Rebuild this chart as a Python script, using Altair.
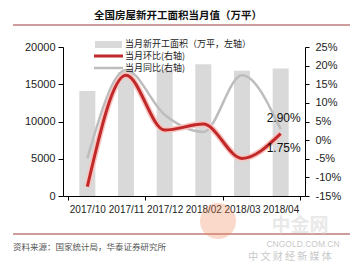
import altair as alt
import pandas as pd

categories = ["2017/10", "2017/11", "2017/12", "2018/02", "2018/03", "2018/04"]
area = [14100, 16650, 16900, 17700, 16800, 17100]      # 当月新开工面积（万平）
mom = [-12.5, 17.4, 2.7, 4.3, -4.9, 1.75]              # 当月环比 %
yoy = [-4.9, 18.8, 6.8, 2.2, 17.4, 2.90]               # 当月同比 %

title_text = "全国房屋新开工面积当月值（万平）"
legend_labels = ["当月新开工面积（万平，左轴）", "当月环比(右轴)", "当月同比(右轴)"]
source_text = "资料来源：国家统计局，华泰证券研究所"

df = pd.DataFrame({"idx": list(range(len(categories))), "cat": categories,
                   "area": area, "mom": mom, "yoy": yoy})
last = df.iloc[[-1]]
one = pd.DataFrame({"a": [0]})

W, H = 242, 149
FONT = "Liberation Sans"
CJK = "Noto Sans CJK SC"

n = len(categories)
xscale = alt.Scale(domain=[-0.5, n - 0.5], nice=False, zero=False)
label_expr = ("datum.value % 1 == 0 ? [" + ",".join("'%s'" % c for c in categories)
              + "][datum.value] : ''")
x_values = sorted(set(list(range(n)) + [-0.5, 1.5, 3.5, 5.5]))

x_axis = alt.Axis(values=x_values, labelExpr=label_expr, grid=False, title=None,
                  domainColor="#000", tickColor="#000", tickSize=4, labelPadding=4,
                  tickOpacity={"condition": {"test": "datum.value % 1 != 0", "value": 1}, "value": 0},
                  labelFont=FONT, labelFontSize=10, labelColor="#222", labelFlush=False,
                  labelOverlap=False)

yl = alt.Scale(domain=[0, 20000], nice=False)
yr = alt.Scale(domain=[-15, 25], nice=False)

left_axis = alt.Axis(values=[0, 5000, 10000, 15000, 20000], grid=False, title=None,
                     domainColor="#000", tickColor="#000", tickSize=5, labelPadding=3,
                     labelFont=FONT, labelFontSize=11, labelColor="#222", format="d")
right_axis = alt.Axis(values=list(range(-15, 30, 5)), grid=False, title=None, orient="right",
                      domainColor="#000", tickColor="#000", tickSize=4, labelPadding=6,
                      labelFont=FONT, labelFontSize=11, labelColor="#222",
                      labelExpr="datum.value + '%'")

X = alt.X("idx:Q", scale=xscale, axis=x_axis, title=None)

bars = alt.Chart(df).mark_bar(width=16, color="#D9D9D9").encode(
    x=X, y=alt.Y("area:Q", scale=yl, axis=left_axis, title=None))

glow = alt.Chart(df).mark_line(interpolate="monotone", color="#F7C4BF", strokeWidth=6).encode(
    x=X, y=alt.Y("mom:Q", scale=yr, axis=right_axis, title=None))
red = alt.Chart(df).mark_line(interpolate="monotone", color="#C0282A", strokeWidth=3).encode(
    x=X, y=alt.Y("mom:Q", scale=yr, axis=right_axis, title=None))
gray = alt.Chart(df).mark_line(interpolate="monotone", color="#BDBDBD", strokeWidth=2.5).encode(
    x=X, y=alt.Y("yoy:Q", scale=yr, axis=right_axis, title=None))

lab_gray = alt.Chart(last).mark_text(font=FONT, fontSize=12, color="#111", dx=3, dy=-11).transform_calculate(
    t="format(datum.yoy, '.2f') + '%'").encode(
    x=X, y=alt.Y("yoy:Q", scale=yr, axis=right_axis, title=None), text="t:N")
lab_red = alt.Chart(last).mark_text(font=FONT, fontSize=12, color="#111", dx=3, dy=14).transform_calculate(
    t="format(datum.mom, '.2f') + '%'").encode(
    x=X, y=alt.Y("mom:Q", scale=yr, axis=right_axis, title=None), text="t:N")

right = alt.layer(gray, glow, red, lab_gray, lab_red)

base = alt.Chart(one)
deco = [
    base.mark_rule(color="#9E3B3B", strokeWidth=1).encode(
        x=alt.value(-50), x2=alt.value(287), y=alt.value(-22)),
    base.mark_rule(color="#9E3B3B", strokeWidth=1).encode(
        x=alt.value(-50), x2=alt.value(287), y=alt.value(187)),
    base.mark_text(font=CJK, fontSize=10.5, fontWeight="bold", color="#111").encode(
        x=alt.value(115), y=alt.value(-31), text=alt.value(title_text)),
    base.mark_text(font=CJK, fontSize=8.5, color="#555", align="left").encode(
        x=alt.value(-50), y=alt.value(200), text=alt.value(source_text)),
    # faint watermark
    base.mark_circle(color="#F08050", opacity=0.3, size=1300).encode(
        x=alt.value(155), y=alt.value(174)),
    base.mark_text(font=CJK, fontSize=19, fontWeight="bold", color="#D5D5D5", opacity=0.5).encode(
        x=alt.value(237), y=alt.value(179), text=alt.value("中金网")),
    base.mark_text(font=FONT, fontSize=8.5, color="#C8C8C8").encode(
        x=alt.value(240), y=alt.value(197), text=alt.value("CNGOLD.COM.CN")),
    base.mark_text(font=CJK, fontSize=10, color="#C8C8C8").encode(
        x=alt.value(227), y=alt.value(210), text=alt.value("中 文 财 经 新 媒 体")),
    # legend
    base.mark_rect(color="#D9D9D9").encode(
        x=alt.value(32), x2=alt.value(59), y=alt.value(-6), y2=alt.value(1)),
    base.mark_rule(color="#C0282A", strokeWidth=3).encode(
        x=alt.value(31), x2=alt.value(60), y=alt.value(9)),
    base.mark_rule(color="#BDBDBD", strokeWidth=2.5).encode(
        x=alt.value(31), x2=alt.value(60), y=alt.value(21)),
    base.mark_text(font=CJK, fontSize=9, color="#222", align="left", baseline="middle").encode(
        x=alt.value(62), y=alt.value(-3), text=alt.value(legend_labels[0])),
    base.mark_text(font=CJK, fontSize=9, color="#222", align="left", baseline="middle").encode(
        x=alt.value(62), y=alt.value(9), text=alt.value(legend_labels[1])),
    base.mark_text(font=CJK, fontSize=9, color="#222", align="left", baseline="middle").encode(
        x=alt.value(62), y=alt.value(21), text=alt.value(legend_labels[2])),
]

chart = alt.layer(bars, right, *deco).resolve_scale(y="independent").properties(
    width=W, height=H,
    autosize=alt.AutoSizeParams(type="none"),
    padding={"left": 63, "top": 47, "right": 55, "bottom": 76},
    background="white",
).configure_view(stroke=None)

chart.save("out.html", embed_options={"renderer": "svg", "actions": False})
